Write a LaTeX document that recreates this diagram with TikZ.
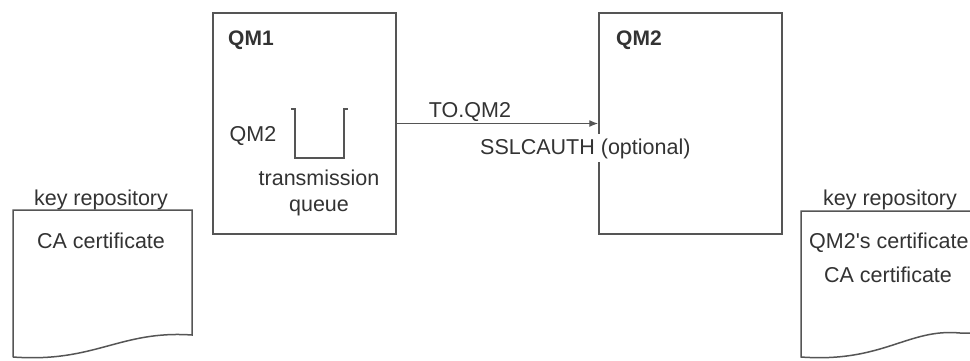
\documentclass[tikz,border=0pt]{standalone}
\usepackage{fontspec}
\setmainfont{Liberation Sans}
\usetikzlibrary{arrows.meta}
\definecolor{txt}{HTML}{333333}
\definecolor{ln}{HTML}{555555}
\tikzset{
  lbl/.style={text=txt, inner sep=0pt, font=\fontsize{21.5bp}{26bp}\selectfont},
  bold/.style={lbl, font=\fontsize{21bp}{26bp}\selectfont\bfseries},
  qmbox/.style={draw=ln, line width=1.5bp, minimum width=183bp, minimum height=221bp, inner sep=0pt},
  doc/.style={draw=ln, line width=1.5bp, fill=white},
  conn/.style={draw=ln, line width=1.3bp, -{Latex[length=9bp,width=7bp]}}
}
\begin{document}
\begin{tikzpicture}[x=1bp,y=-1bp]
\useasboundingbox (0,0) rectangle (970,360);
\clip (0,0) rectangle (970,360);
\fill[white] (0,0) rectangle (970,360);
% boxes
\node[qmbox] (qm1) at (304.5,123.5) {};
\node[qmbox] (qm2) at (690.5,123.5) {};
\node[bold, anchor=base west] (qm1t) at (228,45) {QM1};
\node[bold, anchor=base west] (qm2t) at (616,45) {QM2};
% queue
\draw[ln, line width=1.5bp] (291,109) -- (295,109) -- (295,158) -- (344,158) -- (344,109) -- (348,109);
\node[lbl, anchor=base] (qname) at (253,141) {QM2};
\node[lbl, anchor=base] (tq1) at (319,185) {transmission};
\node[lbl, anchor=base] (tq2) at (319,211) {queue};
% channel
\draw[conn] (qm1.east) -- (qm2.west);
\node[lbl, anchor=base] (ch) at (470,117) {TO.QM2};
\node[lbl, anchor=base west, fill=white, inner ysep=4bp] (ssl) at (480,154) {SSLCAUTH (optional)};
% left key repository
\coordinate (l1) at (13,210);
\coordinate (l2) at (192,210);
\coordinate (l3) at (192,335);
\coordinate (l4) at (13,357);
\draw[doc] (l4) -- (l1) -- (l2) -- (l3) .. controls (120,330) and (95,363) .. (l4);
\node[lbl, anchor=base] (lkr) at (101,205) {key repository};
\node[lbl, anchor=base] (lca) at (101,248) {CA certificate};
% right key repository
\coordinate (r1) at (801,211);
\coordinate (r2) at (990,211);
\coordinate (r3) at (990,333);
\coordinate (r4) at (801,357);
\draw[doc] (r2) -- (r1) -- (r4) .. controls (883,363) and (908,328) .. (960,333) -- (r3);
\node[lbl, anchor=base] (rkr) at (890,205) {key repository};
\node[lbl, anchor=base west] (rqc) at (809,248) {QM2\textquotesingle s certificate};
\node[lbl, anchor=base] (rca) at (888,282) {CA certificate};
\end{tikzpicture}
\end{document}
